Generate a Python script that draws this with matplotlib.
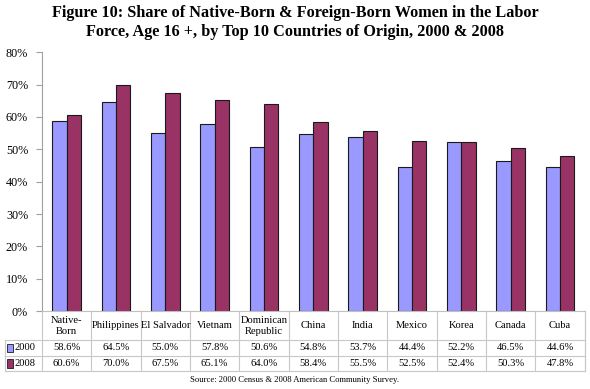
import numpy as np
import matplotlib.pyplot as plt
from matplotlib.patches import Rectangle

plt.rcParams['font.family'] = ['Liberation Serif', 'DejaVu Serif']

# data
countries = ['Native-\nBorn', 'Philippines', 'El Salvador', 'Vietnam', 'Dominican\nRepublic',
             'China', 'India', 'Mexico', 'Korea', 'Canada', 'Cuba']
share_2000 = [58.6, 64.5, 55.0, 57.8, 50.6, 54.8, 53.7, 44.4, 52.2, 46.5, 44.6]
share_2008 = [60.6, 70.0, 67.5, 65.1, 64.0, 58.4, 55.5, 52.5, 52.4, 50.3, 47.8]
years = ['2000', '2008']
colors = ['#9999ff', '#993366']

fig = plt.figure(figsize=(5.9, 3.89), dpi=100)
ax = fig.add_axes([0.071, 0.2, 0.92, 0.666])

x = np.arange(len(countries))
w = 0.29
ax.bar(x - w / 2, share_2000, w, color=colors[0], edgecolor='#1a1a1a', linewidth=0.8)
ax.bar(x + w / 2, share_2008, w, color=colors[1], edgecolor='#1a1a1a', linewidth=0.8)

ax.set_xlim(-0.5, len(countries) - 0.5)
ax.set_ylim(0, 80)
ax.set_yticks(range(0, 81, 10))
ax.set_yticklabels([f'{v}%' for v in range(0, 81, 10)], fontsize=8.7)
ax.set_xticks([])
for s in ['top', 'right']:
    ax.spines[s].set_visible(False)
ax.spines['left'].set_color('#a0a0a0')
ax.spines['bottom'].set_color('#c0c0c0')
ax.tick_params(axis='y', color='#a0a0a0', length=4, pad=6)

# data table below the axes
trans = ax.get_xaxis_transform()
grid = '#c8c8c8'
h_head = 29 / 259
h_row = 15.5 / 259
y_head = -h_head
y1 = y_head - h_row
y2 = y1 - h_row
left = -0.5 - 37 / 49.4
kw = dict(transform=trans, clip_on=False, color=grid, lw=0.8)
for xb in np.arange(-0.5, len(countries)):
    ax.plot([xb, xb], [0, y2], **kw)
ax.plot([len(countries) - 0.5] * 2, [0, y2], **kw)
ax.plot([left, left], [y_head, y2], **kw)
for yy in [y_head, y1, y2]:
    ax.plot([left, len(countries) - 0.5], [yy, yy], **kw)

fs = 7.6
for i, c in enumerate(countries):
    ax.text(i, y_head / 2, c, transform=trans, ha='center', va='center', fontsize=fs, linespacing=1.3)
    ax.text(i, y_head - h_row / 2, f'{share_2000[i]:.1f}%', transform=trans, ha='center', va='center', fontsize=fs)
    ax.text(i, y1 - h_row / 2, f'{share_2008[i]:.1f}%', transform=trans, ha='center', va='center', fontsize=fs)

for k, (yr, col) in enumerate(zip(years, colors)):
    yc = y_head - h_row * (k + 0.5)
    ax.add_patch(Rectangle((left + 0.04, yc - 0.017), 0.13, 0.034, transform=trans, clip_on=False,
                           facecolor=col, edgecolor='#1a1a1a', lw=0.6))
    ax.text(left + 0.2, yc, yr, transform=trans, ha='left', va='center', fontsize=fs)

fig.text(0.5, 0.942, 'Figure 10: Share of Native-Born & Foreign-Born Women in the Labor\n'
         'Force, Age 16 +, by Top 10 Countries of Origin, 2000 & 2008',
         ha='center', va='center', fontsize=11.7, fontweight='bold', linespacing=1.2)
fig.text(0.5, 0.022, 'Source: 2000 Census & 2008 American Community Survey.', ha='center', va='center', fontsize=6.2)

fig.savefig('out.png', dpi=100)
